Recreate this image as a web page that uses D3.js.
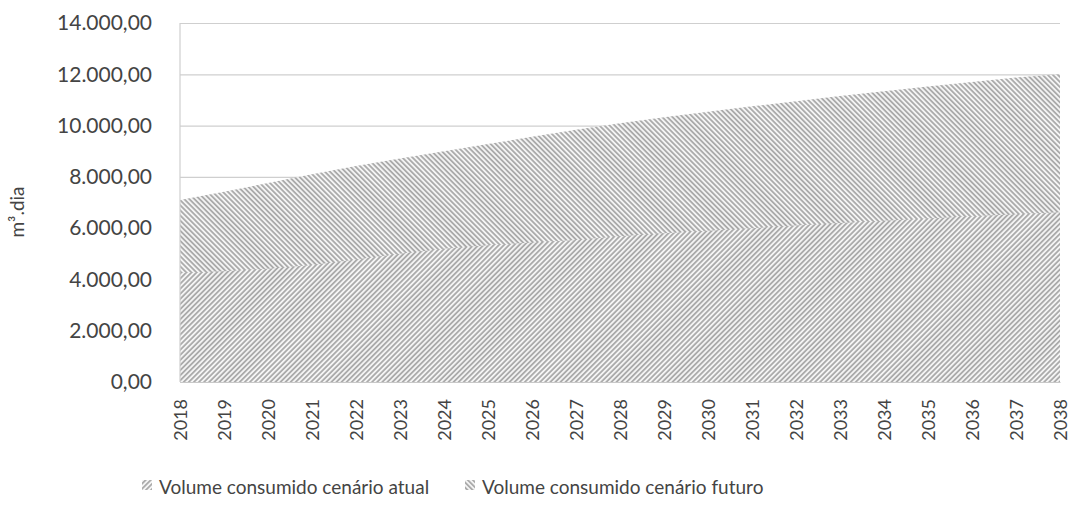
<!DOCTYPE html>
<html>
<head>
<meta charset="utf-8">
<script src="https://cdn.jsdelivr.net/npm/d3@7"></script>
<style>
  body { margin: 0; background: #fff; }
  text { font-family: Lato, "Open Sans", sans-serif; fill: #444; }
</style>
</head>
<body>
<div id="chart"></div>
<script>
let svgWidth = 1072;
let svgHeight = 505;

// data
let years = ["2018", "2019", "2020", "2021", "2022", "2023", "2024", "2025", "2026", "2027", "2028",
    "2029", "2030", "2031", "2032", "2033", "2034", "2035", "2036", "2037", "2038"];
let atual = [4250, 4320, 4420, 4560, 4780, 5000, 5200, 5330, 5440, 5540, 5680,
    5800, 5900, 6000, 6100, 6200, 6290, 6380, 6460, 6540, 6620];
let futuro = [7100, 7420, 7760, 8100, 8420, 8720, 9000, 9280, 9560, 9840, 10090,
    10320, 10540, 10750, 10950, 11150, 11340, 11520, 11700, 11870, 12000];
let yTicks = [0, 2000, 4000, 6000, 8000, 10000, 12000, 14000];
let seriesNames = ["Volume consumido cenário atual", "Volume consumido cenário futuro"];

let margin = { top: 23, right: 12, bottom: 123, left: 180 };
let width = svgWidth - margin.left - margin.right;
let height = svgHeight - margin.top - margin.bottom;

let br = d3.formatLocale({ decimal: ",", thousands: ".", grouping: [3], currency: ["R$", ""] });
let fmt = br.format(",.2f");

let svg = d3.select("#chart")
    .append("svg")
    .attr("width", svgWidth)
    .attr("height", svgHeight);

// hatch patterns
let defs = svg.append("defs");
function hatch(id, angle) {
    let p = defs.append("pattern")
        .attr("id", id)
        .attr("patternUnits", "userSpaceOnUse")
        .attr("width", 3.6)
        .attr("height", 3.6)
        .attr("patternTransform", `rotate(${angle})`);
    p.append("rect").attr("width", 3.6).attr("height", 3.6).attr("fill", "#f4f4f4");
    p.append("line")
        .attr("x1", 0.9).attr("y1", 0)
        .attr("x2", 0.9).attr("y2", 3.6)
        .attr("stroke", "#a2a2a2")
        .attr("stroke-width", 1.6);
}
hatch("hAtual", 45);
hatch("hFuturo", -45);

let chartGroup = svg.append("g")
    .attr("transform", `translate(${margin.left}, ${margin.top})`);

let x = d3.scalePoint().domain(years).range([0, width]);
let y = d3.scaleLinear().domain([0, 14000]).range([height, 0]);

// gridlines + y labels
let leftAxis = d3.axisLeft(y).tickValues(yTicks).tickFormat(fmt).tickSize(-width).tickPadding(28);
let gy = chartGroup.append("g").call(leftAxis);
gy.select(".domain").remove();
gy.selectAll(".tick line").attr("stroke", "#cfcfcf").attr("stroke-width", 1.2);
gy.selectAll(".tick text").attr("font-size", 21).attr("fill", "#444");

// areas
let area = vals => d3.area()
    .x((d, i) => x(years[i]))
    .y0(y(0))
    .y1(d => y(d))(vals);

chartGroup.append("path").attr("d", area(futuro)).attr("fill", "url(#hFuturo)");
chartGroup.append("path").attr("d", area(atual)).attr("fill", "url(#hAtual)");

// axes lines
chartGroup.append("line")
    .attr("x1", 0).attr("x2", 0).attr("y1", y(14000)).attr("y2", height)
    .attr("stroke", "#cfcfcf").attr("stroke-width", 1.2);

let bottomAxis = d3.axisBottom(x).tickSize(0).tickPadding(0);
let gx = chartGroup.append("g")
    .attr("transform", `translate(0, ${height})`)
    .call(bottomAxis);
gx.select(".domain").attr("stroke", "#c8c8c8").attr("stroke-width", 1.2);
gx.selectAll(".tick text")
    .attr("font-size", 18)
    .attr("fill", "#444")
    .attr("text-anchor", "end")
    .attr("transform", "translate(6, 17) rotate(-90)")
    .attr("dy", 0)
    .attr("y", 0);

// y axis title
svg.append("text")
    .attr("transform", "translate(24, 212) rotate(-90)")
    .attr("text-anchor", "middle")
    .attr("font-size", 19)
    .text("m³.dia");

// legend
let legend = svg.append("g").attr("transform", "translate(0, 487)");
let legX = [142, 465];
seriesNames.forEach((name, i) => {
    legend.append("rect")
        .attr("x", legX[i]).attr("y", -7)
        .attr("width", 10).attr("height", 10)
        .attr("fill", i === 0 ? "url(#hAtual)" : "url(#hFuturo)");
    legend.append("text")
        .attr("x", legX[i] + 17)
        .attr("y", 0)
        .attr("dy", "0.35em")
        .attr("font-size", 19)
        .text(name);
});
</script>
</body>
</html>
